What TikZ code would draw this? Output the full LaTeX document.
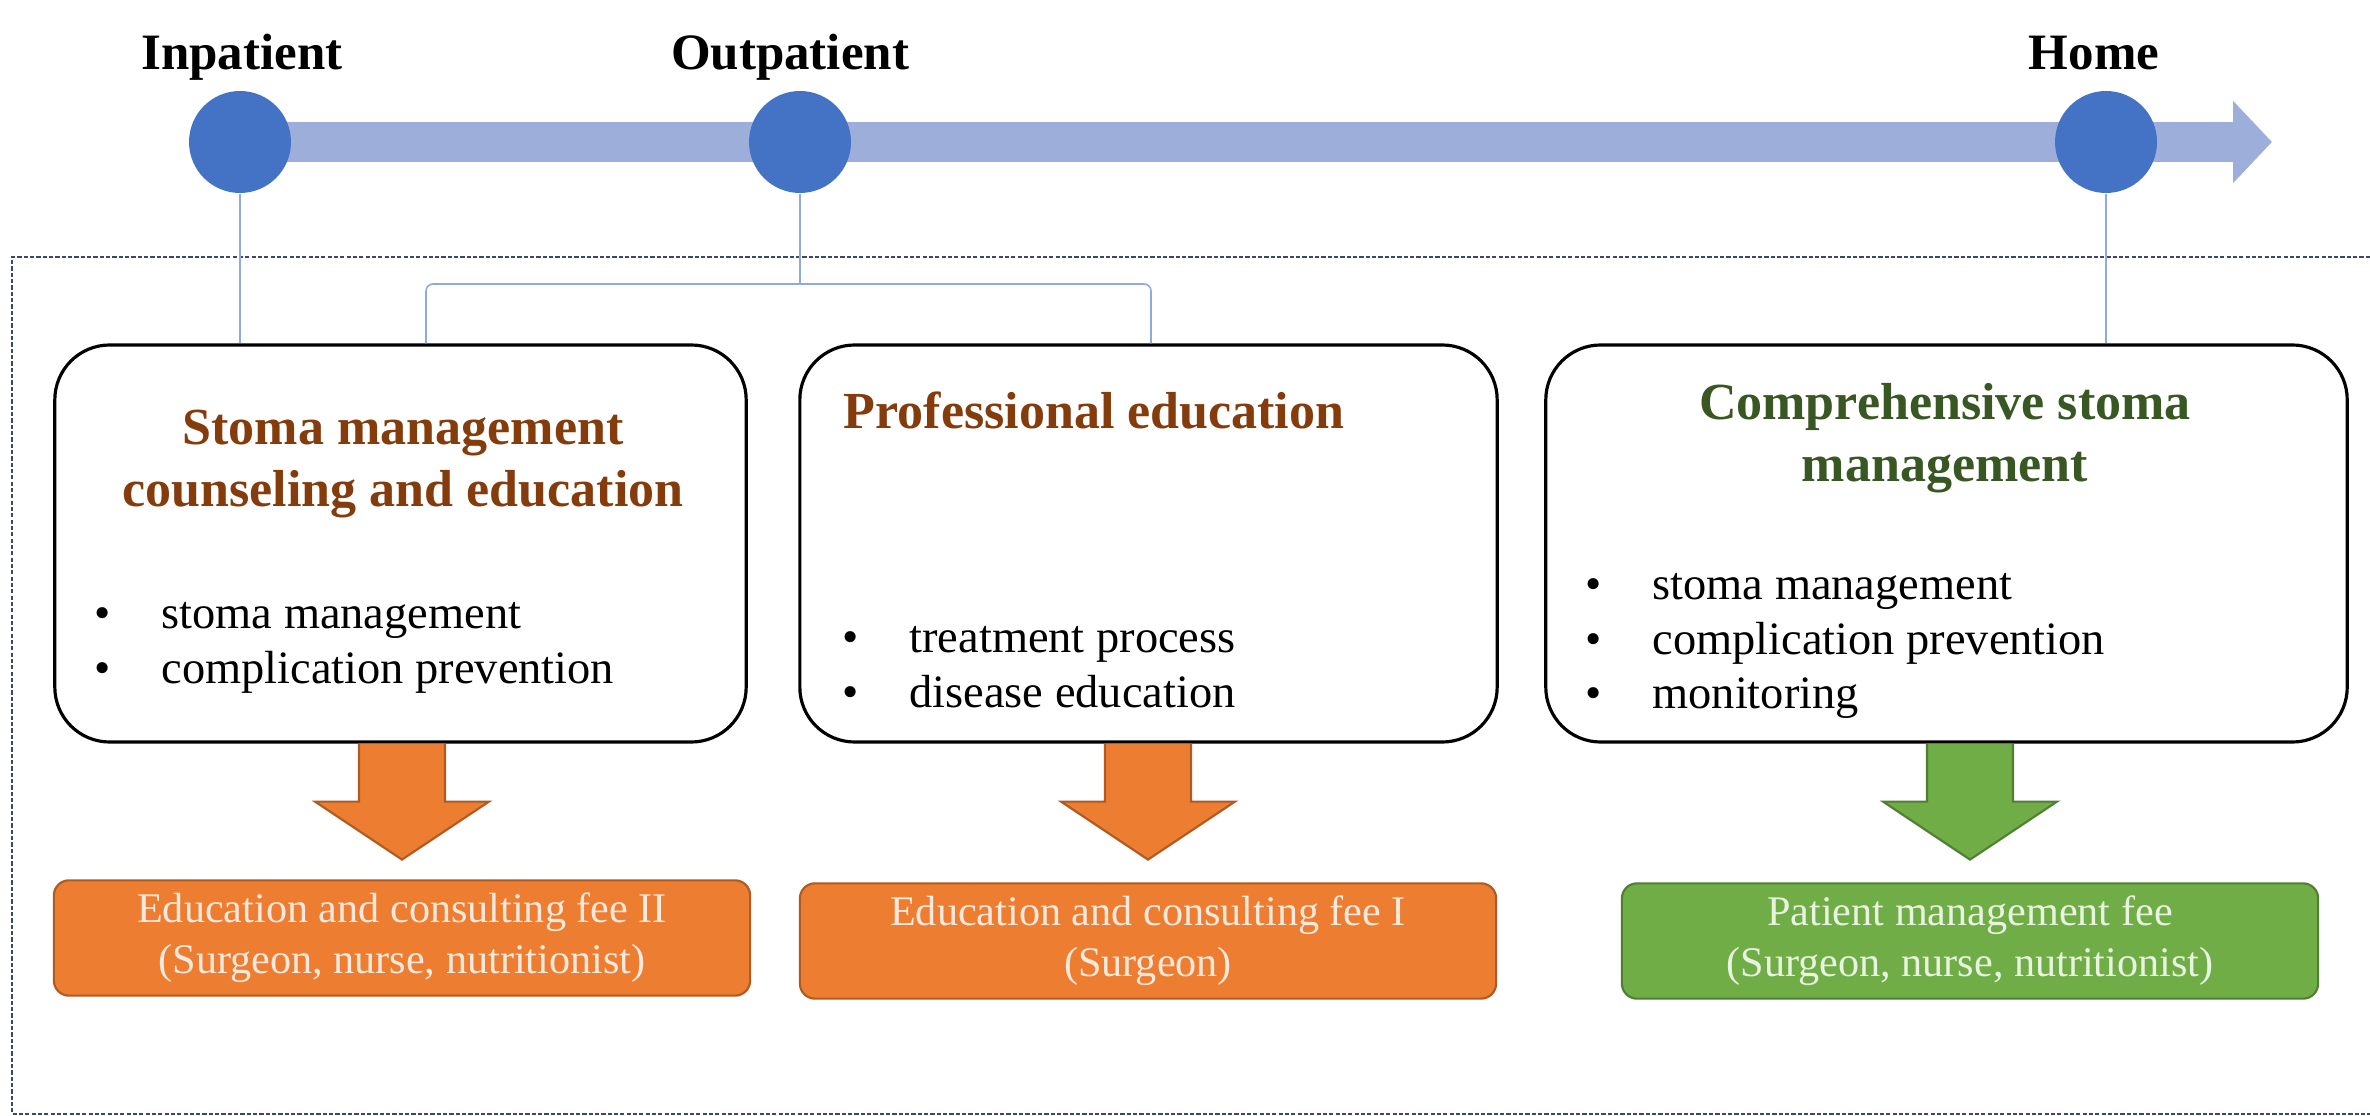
\documentclass[tikz,border=0pt]{standalone}
\usepackage{fontspec}
\setmainfont{Liberation Serif}
\usetikzlibrary{arrows.meta,calc}

\definecolor{barblue}{RGB}{157,174,219}
\definecolor{dotblue}{RGB}{68,114,196}
\definecolor{linkblue}{RGB}{143,170,220}
\definecolor{framegray}{RGB}{55,75,105}
\definecolor{titlebrown}{RGB}{132,60,12}
\definecolor{titlegreen}{RGB}{56,87,35}
\definecolor{feeorange}{RGB}{237,125,49}
\definecolor{feeorangedark}{RGB}{174,90,33}
\definecolor{feeorangelight}{RGB}{252,232,220}
\definecolor{feegreen}{RGB}{112,173,71}
\definecolor{feegreendark}{RGB}{80,126,50}
\definecolor{feegreenlight}{RGB}{232,244,224}

\tikzstyle{stagedot} = [circle, minimum size=29pt, inner sep=0pt, fill=dotblue]
\tikzstyle{stagelabel} = [anchor=base, inner sep=0pt, font=\fontsize{14.5}{17}\selectfont\bfseries]
\tikzstyle{timebar} = [line width=11.4pt, barblue, -{Triangle[length=11.1pt, width=22.8pt]}]
\tikzstyle{link} = [linkblue, line width=0.45pt]
\tikzstyle{careframe} = [framegray, line width=0.55pt, dash pattern=on 1.2pt off 0.6pt]
\tikzstyle{stagebox} = [rectangle, rounded corners=15.6pt, draw=black, line width=0.9pt, fill=white, minimum height=112.9pt, inner sep=0pt]
\tikzstyle{stagetitle} = [inner sep=0pt, align=center, font=\fontsize{14.8}{17.7}\selectfont\bfseries]
\tikzstyle{stageitems} = [anchor=west, inner sep=0pt, align=left, font=\fontsize{13.2}{15.6}\selectfont]
\tikzstyle{feebox} = [rectangle, rounded corners=4.3pt, line width=0.6pt, minimum width=198pt, minimum height=32.8pt, inner sep=0pt, align=center, font=\fontsize{12}{14.4}\selectfont]
\tikzstyle{orangefee} = [feebox, fill=feeorange, draw=feeorangedark, text=feeorangelight]
\tikzstyle{greenfee} = [feebox, fill=feegreen, draw=feegreendark, text=feegreenlight]
\tikzstyle{orangearrow} = [fill=feeorange, draw=feeorangedark, line width=0.6pt]
\tikzstyle{greenarrow} = [fill=feegreen, draw=feegreendark, line width=0.6pt]

\newcommand{\bul}{\makebox[19pt][l]{\textbullet}}

\begin{document}
\begin{tikzpicture}[x=0.01cm, y=-0.01cm]
\useasboundingbox (0,0) rectangle (2370,1116);

% timeline
\coordinate (start) at (240,142);
\coordinate (tip) at (2272,142);
\draw [timebar] (start) -- (tip);
\node (inp) [stagedot] at (start) {};
\node (outp) [stagedot] at (800,142) {};
\node (home) [stagedot] at (2106,142) {};
\node (inplbl) [stagelabel] at (242,70) {Inpatient};
\node (outplbl) [stagelabel] at (790,70) {Outpatient};
\node (homelbl) [stagelabel] at (2094,70) {Home};
%
\draw [careframe] (2370,257) -- (12,257) -- (12,1114) -- (2370,1114);
%
\node (counsel) [stagebox, minimum width=196.6pt] at (400.5,543.5) {};
\node (prof) [stagebox, minimum width=198.3pt] at (1148.5,543.5) {};
\node (comp) [stagebox, minimum width=227.9pt] at (1946.5,543.5) {};
%
\node (counseltitle) [stagetitle, text=titlebrown] at (403,464) {Stoma management\\counseling and education};
\node (proftitle) [stagetitle, text=titlebrown, anchor=west] at (843,410) {Professional education};
\node (comptitle) [stagetitle, text=titlegreen] at (1945,438) {Comprehensive stoma\\management};
%
\node (counselitems) [stageitems] at (94,648) {\bul stoma management\\\bul complication prevention};
\node (profitems) [stageitems] at (842,667) {\bul treatment process\\\bul disease education};
\node (compitems) [stageitems] at (1585,646) {\bul stoma management\\\bul complication prevention\\\bul monitoring};
%
\node (fee1) [orangefee] at (402,938) {Education and consulting fee II\\(Surgeon, nurse, nutritionist)};
\node (fee2) [orangefee] at (1148,941) {Education and consulting fee I\\(Surgeon)};
\node (fee3) [greenfee] at (1970,941) {Patient management fee\\(Surgeon, nurse, nutritionist)};
%
\coordinate (brkL) at (426,284);
\coordinate (brkR) at (1151,284);
\draw [link] (inp) -- (inp |- counsel.north);
\draw [link] (outp) -- (outp |- brkL);
	\draw [link, rounded corners=2pt] (brkL |- counsel.north) -- (brkL) -- (brkR) -- (brkR |- prof.north);
\draw [link] (home) -- (home |- comp.north);
%
\filldraw [orangearrow] ($(counsel.south -| fee1.north)+(-43,0)$) -- ++(0,58) -- ++(-44,0) -- ++(87,58) -- ++(87,-58) -- ++(-44,0) -- ++(0,-58);
\filldraw [orangearrow] ($(prof.south -| fee2.north)+(-43,0)$) -- ++(0,58) -- ++(-44,0) -- ++(87,58) -- ++(87,-58) -- ++(-44,0) -- ++(0,-58);
\filldraw [greenarrow] ($(comp.south -| fee3.north)+(-43,0)$) -- ++(0,58) -- ++(-44,0) -- ++(87,58) -- ++(87,-58) -- ++(-44,0) -- ++(0,-58);
\end{tikzpicture}
\end{document}
